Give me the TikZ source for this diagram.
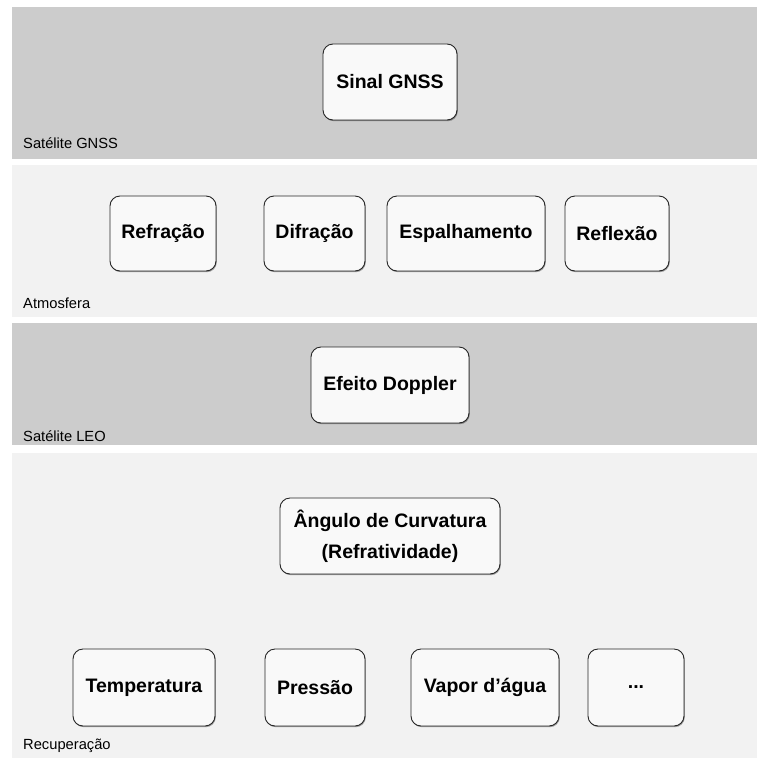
\documentclass[tikz,border=0pt]{standalone}
\usepackage{fontspec}
\setmainfont{Liberation Sans}
\usetikzlibrary{shadows}
\definecolor{laneDark}{HTML}{CCCCCC}
\definecolor{laneLight}{HTML}{F2F2F2}
\definecolor{boxFill}{HTML}{F9F9F9}
\tikzstyle{lanelabel} = [anchor=base west, inner sep=0pt, font=\fontsize{14.7}{17}\selectfont]
\tikzstyle{effect} = [rectangle, rounded corners=10pt, minimum height=76pt, text centered, draw=black!85, line width=0.9pt, fill=boxFill, font=\bfseries\fontsize{19.5}{23}\selectfont, drop shadow={shadow xshift=0.8pt, shadow yshift=-1.2pt, fill=black, opacity=0.35}]

\begin{document}
\begin{tikzpicture}[x=1pt, y=-1pt]
\useasboundingbox (0,0) rectangle (757,758);

% faixas
\fill[laneDark] (12,7) rectangle (757,159);
\fill[laneLight] (12,165) rectangle (757,317);
\fill[laneDark] (12,323) rectangle (757,445);
\fill[laneLight] (12,453) rectangle (757,758);

\node (l1) [lanelabel] at (23,148) {Satélite GNSS};
\node (l2) [lanelabel] at (23,308) {Atmosfera};
\node (l3) [lanelabel] at (23,441) {Satélite LEO};
\node (l4) [lanelabel] at (23,749) {Recuperação};

\node (0) [effect, minimum width=134pt] at (390,82) {Sinal GNSS};

\node (1) [effect, minimum width=106pt, minimum height=75pt] at (163,233.5) {Refração};
\node (2) [effect, minimum width=101pt, minimum height=75pt] at (314.5,233.5) {Difração};
\node (3) [effect, minimum width=158pt, minimum height=75pt] at (466,233.5) {Espalhamento};
\node (4) [effect, minimum width=104pt, minimum height=75pt] at (617,233.5) {Reflexão};

\node (5) [effect, minimum width=158pt] at (390,385) {Efeito Doppler};

\node (6) [effect, minimum width=220pt, align=center, font=\bfseries\fontsize{19.5}{31}\selectfont] at (390,536) {Ângulo de Curvatura\\(Refratividade)};

\node (7) [effect, minimum width=142pt, minimum height=77pt] at (144,687.5) {Temperatura};
\node (8) [effect, minimum width=100pt, minimum height=77pt] at (315,687.5) {Pressão};
\node (9) [effect, minimum width=148pt, minimum height=77pt] at (485,687.5) {Vapor d’água};
\node (10) [effect, minimum width=96pt, minimum height=77pt] at (636,687.5) {...};

\end{tikzpicture}
\end{document}
